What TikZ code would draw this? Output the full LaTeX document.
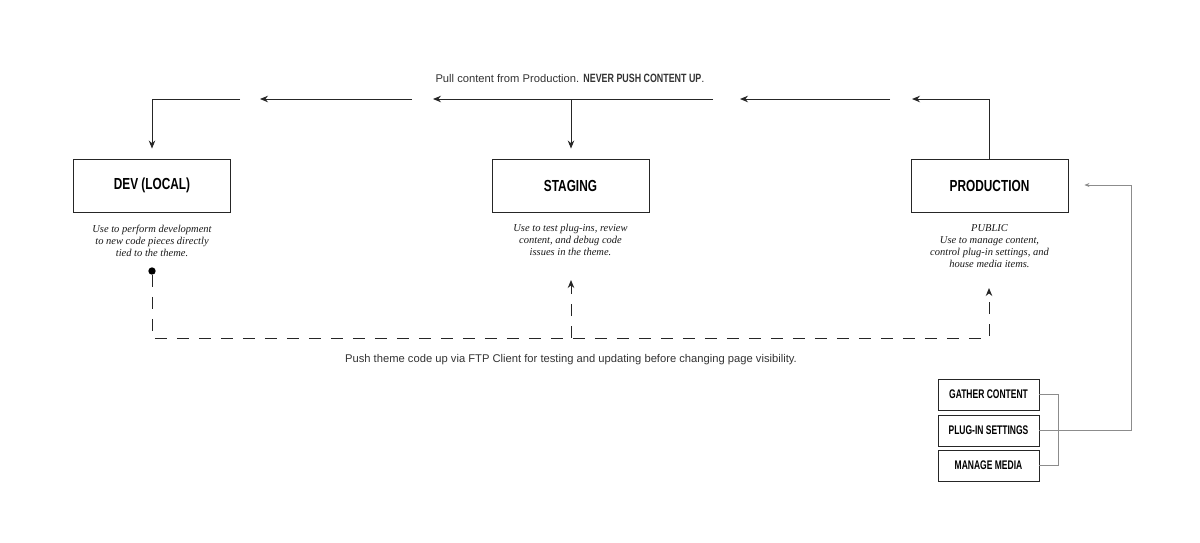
\documentclass[tikz,border=0pt]{standalone}
\usepackage{fontspec}
\setmainfont{Liberation Serif}
\newfontfamily\labelfont[FakeStretch=0.74]{Liberation Sans}
\newfontfamily\tasklabelfont[FakeStretch=0.68]{Liberation Sans}
\newfontfamily\notefont{Liberation Sans}
\usepackage{tikz}
\usetikzlibrary{positioning,arrows.meta,calc}

\begin{document}
\begin{tikzpicture}[
x=1pt,y=-1pt,
envbox/.style={
  draw=black!85,
  line width=0.9pt,
  minimum width=157pt,
  minimum height=53pt,
  font=\labelfont\bfseries\fontsize{16}{18}\selectfont},
taskbox/.style={
  draw=black!85,
  line width=0.9pt,
  minimum width=101pt,
  minimum height=31pt,
  font=\tasklabelfont\bfseries\fontsize{12.5}{14}\selectfont},
envnote/.style={
  align=center,
  inner sep=0pt,
  text=black!90,
  font=\itshape\fontsize{10.5}{12}\selectfont},
pull/.style={
  draw=black!85,
  line width=1pt,
  -{Stealth[length=8pt,width=6.5pt]}},
push/.style={
  draw=black!85,
  line width=1pt,
  dash pattern=on 12pt off 10pt,
  -{Stealth[length=8pt,width=6.5pt]}},
feed/.style={
  draw=black!45,
  line width=0.7pt},
mydot/.style={
  circle,
  fill=black,
  inner sep=2.6pt}
]
\useasboundingbox (0,0) rectangle (1200,542);
% environments
\node[envbox] (dev) at (152,185.5) {DEV (LOCAL)};
\node[envbox] (stg) at (570.5,185.5) {STAGING};
\node[envbox] (prod) at (989.5,185.5) {PRODUCTION};
\node[envnote, below=12pt of dev] (devnote)
  {Use to perform development\\to new code pieces directly\\tied to the theme.};
\node[envnote, below=12pt of stg] (stgnote)
  {Use to test plug-ins, review\\content, and debug code\\issues in the theme.};
\node[envnote, below=12pt of prod] (prodnote)
  {PUBLIC\\Use to manage content,\\control plug-in settings, and\\house media items.};
% pull content
\node[font=\notefont\fontsize{11.2}{12}\selectfont, text=black!80] (pulltext) at (570,78)
  {Pull content from Production. {\labelfont\bfseries\fontsize{12}{12}\selectfont NEVER PUSH CONTENT UP}.};
\coordinate (ptop) at (912,99);
\draw[pull] (prod.north) |- (ptop);
\foreach \Seg/\From/\To in {a/890/740,b/713/433,c/412/260}{
  \coordinate (\Seg1) at (\From,99);
  \coordinate (\Seg2) at (\To,99);
  \draw[pull] (\Seg1) -- (\Seg2);
}
\coordinate (stgtop) at (571,99);
\draw[pull, shorten >=10pt] (stgtop) -- (stgtop |- stg.north);
\coordinate (devtop) at (240,99);
\draw[pull, shorten >=10pt] (devtop) -| (dev.north);
% push theme code
\node[mydot] (start) at (152,271) {};
\coordinate (pushL) at (152,338);
\coordinate (pushR) at (989,338);
\coordinate (prodin) at (989,288);
\coordinate (stgbase) at (571,338);
\coordinate (stgin) at (571,280);
\draw[push] (start) -- (pushL) -- (pushR) -- (prodin);
\draw[push] (stgbase) -- (stgin);
\node[font=\notefont\fontsize{11.2}{12}\selectfont, text=black!80] (pushtext) at (571,360)
  {Push theme code up via FTP Client for testing and updating before changing page visibility.};
% tasks
\node[taskbox] (gather) at (988.5,394.5) {GATHER CONTENT};
\node[taskbox] (plugin) at (988.5,430.5) {PLUG-IN SETTINGS};
\node[taskbox] (media) at (988.5,465.5) {MANAGE MEDIA};
\draw[feed] (gather.east) -- ++(19,0) |- (media.east);
\coordinate (feedtop) at (1131,185);
\coordinate (feedin) at ($(prod.east)+(16,-0.5)$);
\draw[feed, -{Stealth[length=5pt,width=4pt]}] (plugin.east) -| (feedtop) -- (feedin);
\end{tikzpicture}
\end{document}
